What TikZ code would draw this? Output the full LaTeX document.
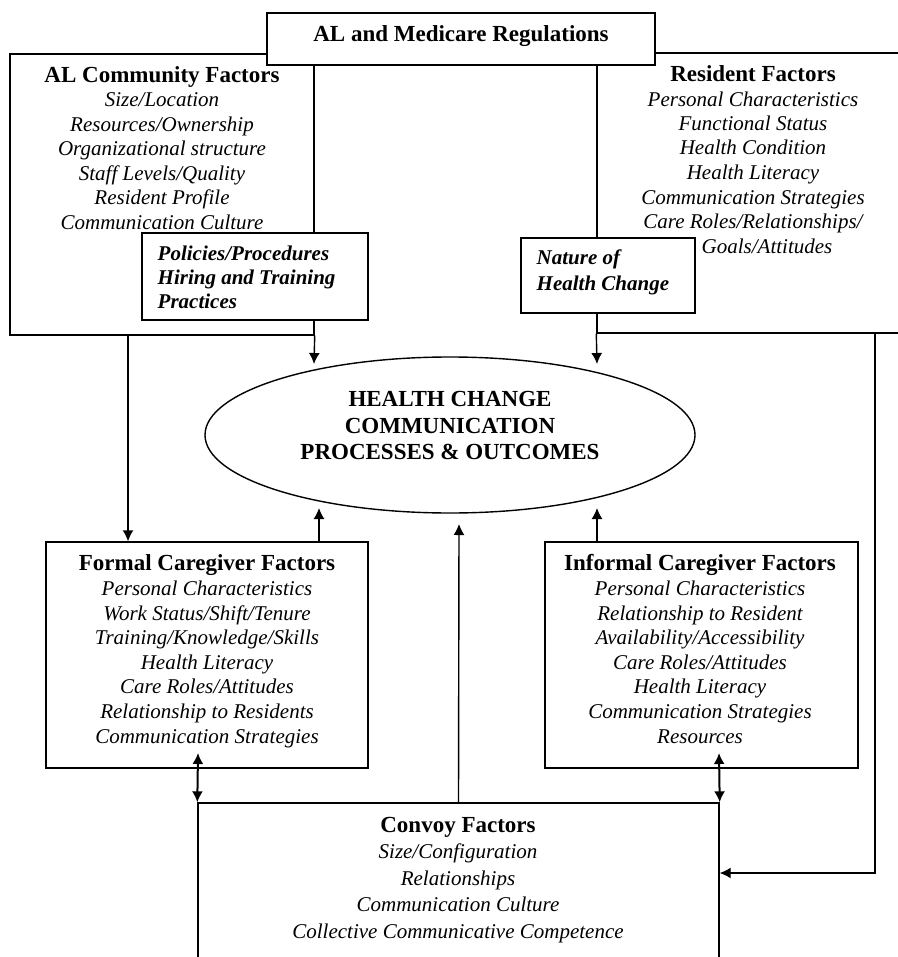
\documentclass[tikz,border=0pt]{standalone}
\usepackage{fontspec}
\setmainfont{Liberation Serif}
\usetikzlibrary{shapes.geometric,arrows.meta}

\tikzset{
  box/.style={draw, fill=white, inner sep=0pt},
  items/.style={align=center, inner sep=0pt, font=\fontsize{10.5}{12.25}\selectfont\itshape},
  bolditems/.style={align=left, inner sep=0pt, font=\fontsize{10.5}{12}\selectfont\bfseries\itshape},
}
\newcommand{\boxtitle}[1]{{\upshape\bfseries\fontsize{11.5}{12.25}\selectfont #1}}

\begin{document}
\begin{tikzpicture}[x=0.5pt,y=-0.5pt,line width=0.7pt,>={Latex[length=5.5pt,width=5.5pt]}]
\useasboundingbox (0,0) rectangle (898,957);
\clip (0,0) rectangle (898,957);

% boxes
\node[box, minimum width=152pt, minimum height=140.5pt] (comm) at (162,194.5) {};
\node[box, minimum width=156pt, minimum height=140pt] (res) at (753,193) {};
\node[box, minimum width=194pt, minimum height=26pt] (reg) at (461,39) {};
\node[box, minimum width=113pt, minimum height=43.5pt] (pol) at (255,276.5) {};
\node[box, minimum width=87pt, minimum height=37.5pt] (nat) at (608,275.5) {};
\node[draw, ellipse, inner sep=0pt, minimum width=245pt, minimum height=78pt] (hc) at (450,435) {};
\node[box, minimum width=161pt, minimum height=113pt] (formal) at (207,655) {};
\node[box, minimum width=156.5pt, minimum height=113pt] (informal) at (701.5,655) {};
\node[box, minimum width=260.5pt, minimum height=93.5pt] (convoy) at (458.5,896.5) {};

% texts (base = last line)
\node[anchor=base, inner sep=0pt] (regtxt) at (461,42) {\boxtitle{AL and Medicare Regulations}};
\node[items, anchor=base] (commtxt) at (162,229) {\boxtitle{AL Community Factors}\\Size/Location\\Resources/Ownership\\Organizational structure\\Staff Levels/Quality\\Resident Profile\\Communication Culture};
\node[items, anchor=base] (restxt) at (753,253) {\boxtitle{Resident Factors}\\Personal Characteristics\\Functional Status\\Health Condition\\Health Literacy\\Communication Strategies\\Care Roles/Relationships/\\\hspace*{14pt}Goals/Attitudes};
\node[bolditems, anchor=base west] (poltxt) at (157,308) {Policies/Procedures\\Hiring and Training\\Practices};
\node[bolditems, anchor=base west, font=\fontsize{10.5}{12.8}\selectfont\bfseries\itshape] (nattxt) at (536,290.5) {Nature of\\Health Change};
\node[align=center, inner sep=0pt, anchor=base, font=\fontsize{11.5}{13.2}\selectfont\bfseries] (hctxt) at (450,459.5) {HEALTH CHANGE\\COMMUNICATION\\PROCESSES \& OUTCOMES};
\node[items, anchor=base, font=\fontsize{10.5}{12.3}\selectfont\itshape] (formaltxt) at (207,743) {\boxtitle{Formal Caregiver Factors}\\Personal Characteristics\\Work Status/Shift/Tenure\\Training/Knowledge/Skills\\Health Literacy\\Care Roles/Attitudes\\Relationship to Residents\\Communication Strategies};
\node[items, anchor=base, font=\fontsize{10.5}{12.3}\selectfont\itshape] (informaltxt) at (700,743) {\boxtitle{Informal Caregiver Factors}\\Personal Characteristics\\Relationship to Resident\\Availability/Accessibility\\Care Roles/Attitudes\\Health Literacy\\Communication Strategies\\Resources};
\node[items, anchor=base, font=\fontsize{10.5}{13.2}\selectfont\itshape] (convoytxt) at (458,938) {\boxtitle{Convoy Factors}\\Size/Configuration\\Relationships\\Communication Culture\\Collective Communicative Competence};

% connector ends
\coordinate (hcTL) at (314,364);
\coordinate (hcTR) at (597,364);
\coordinate (hcBL) at (319,508);
\coordinate (hcBR) at (597,508);
\coordinate (hcB) at (459,524);
\coordinate (drop) at (128,0);
\coordinate (fup) at (198,753);
\coordinate (iup) at (719,753);
\coordinate (side) at (875,873);

\begin{scope}[->]
\draw (comm.south east) -- (hcTL);
\draw (res.south west) -- (hcTR);
\draw (comm.south -| drop) -- (formal.north -| drop);
\draw (formal.north -| hcBL) -- (hcBL);
\draw (informal.north -| hcBR) -- (hcBR);
\draw (convoy.north) -- (hcB);
\draw (res.south -| side) |- (convoy.east |- side);
\end{scope}
\draw[<->,line width=1pt] (fup) -- (convoy.north west);
\draw[<->,line width=1pt] (iup) -- (convoy.north east);
\end{tikzpicture}
\end{document}
